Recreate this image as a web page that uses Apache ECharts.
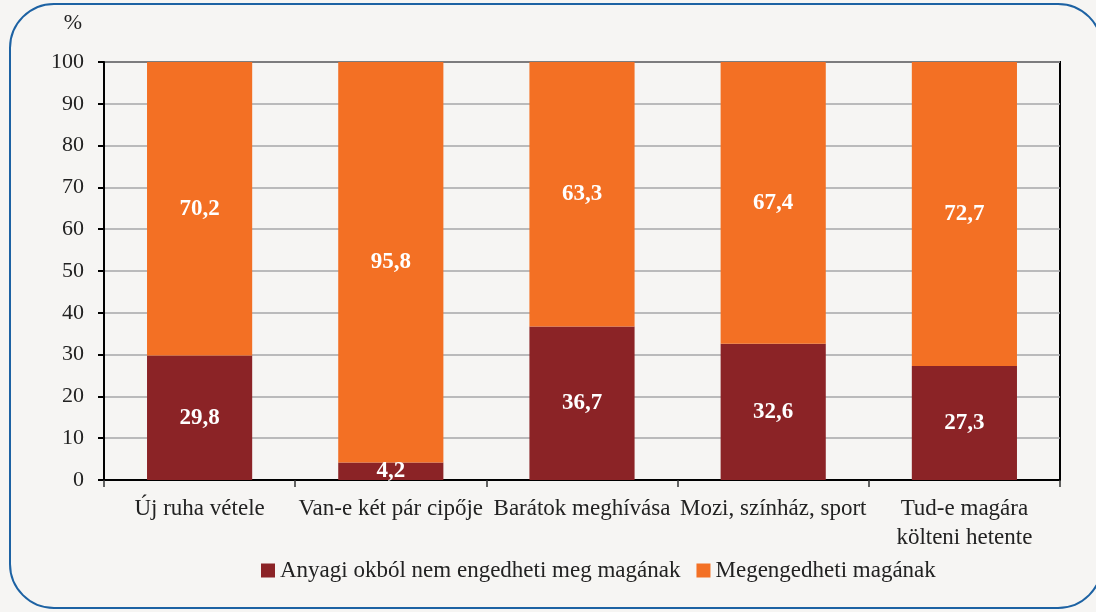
<!DOCTYPE html>
<html>
<head>
<meta charset="utf-8">
<script src="https://cdn.jsdelivr.net/npm/echarts@6/dist/echarts.min.js"></script>
<style>
  html, body { margin: 0; padding: 0; background: #f6f5f3; }
  #main { width: 1096px; height: 612px; }
</style>
</head>
<body>
<div id="main"></div>
<script>
// adatok
var categories = ['Új ruha vétele', 'Van-e két pár cipője', 'Barátok meghívása', 'Mozi, színház, sport', 'Tud-e magára\nkölteni hetente'];
var nemEngedheti = [29.8, 4.2, 36.7, 32.6, 27.3];
var megengedheti = [70.2, 95.8, 63.3, 67.4, 72.7];
var seriesNames = ['Anyagi okból nem engedheti meg magának', 'Megengedheti magának'];

var font = 'Liberation Serif, DejaVu Serif, serif';

var chart = echarts.init(document.getElementById('main'));

var labelStyle = {
    show: true,
    position: 'inside',
    color: '#fff',
    fontFamily: font,
    fontWeight: 'bold',
    fontSize: 23,
    formatter: function (p) { return String(p.value).replace('.', ','); }
};

option = {
    backgroundColor: '#f6f5f3',
    textStyle: { fontFamily: font },
    graphic: [{
        type: 'rect',
        shape: { x: 10, y: 4, width: 1092, height: 604, r: 44 },
        style: { fill: 'none', stroke: '#1d62a3', lineWidth: 2 },
        z: -1
    }],
    grid: {
        left: 104, right: 36, top: 62, bottom: 132,
        show: true,
        borderColor: '#000',
        borderWidth: 2
    },
    legend: {
        bottom: 25,
        left: 256,
        icon: 'rect',
        itemWidth: 14,
        itemHeight: 14,
        itemGap: 16,
        textStyle: { fontFamily: font, fontSize: 23, color: '#222' },
        data: seriesNames
    },
    xAxis: {
        type: 'category',
        data: categories,
        axisLine: { lineStyle: { color: '#000', width: 2 } },
        axisTick: { show: true, length: 7, lineStyle: { color: '#333', width: 1.5 } },
        axisLabel: { color: '#222', fontFamily: font, fontSize: 23, margin: 14, lineHeight: 29, interval: 0 }
    },
    yAxis: {
        type: 'value',
        min: 0, max: 100, interval: 10,
        name: '%',
        nameLocation: 'end',
        nameGap: 28,
        nameTextStyle: { color: '#222', fontFamily: font, fontSize: 22, align: 'right', padding: [0, 22, 0, 0] },
        axisLine: { show: true, lineStyle: { color: '#000', width: 2 } },
        axisTick: { show: true, length: 6, lineStyle: { color: '#000', width: 2 } },
        axisLabel: { color: '#222', fontFamily: font, fontSize: 22, margin: 20 },
        splitLine: { lineStyle: { color: '#a6a6a8', width: 1.5 } }
    },
    series: [{
        name: seriesNames[0],
        type: 'bar',
        stack: 'a',
        barWidth: '55%',
        itemStyle: { color: '#8b2326' },
        label: labelStyle,
        data: nemEngedheti
    }, {
        name: seriesNames[1],
        type: 'bar',
        stack: 'a',
        barWidth: '55%',
        itemStyle: { color: '#f37024' },
        label: labelStyle,
        data: megengedheti
    }]
};
chart.setOption(option);
</script>
</body>
</html>
